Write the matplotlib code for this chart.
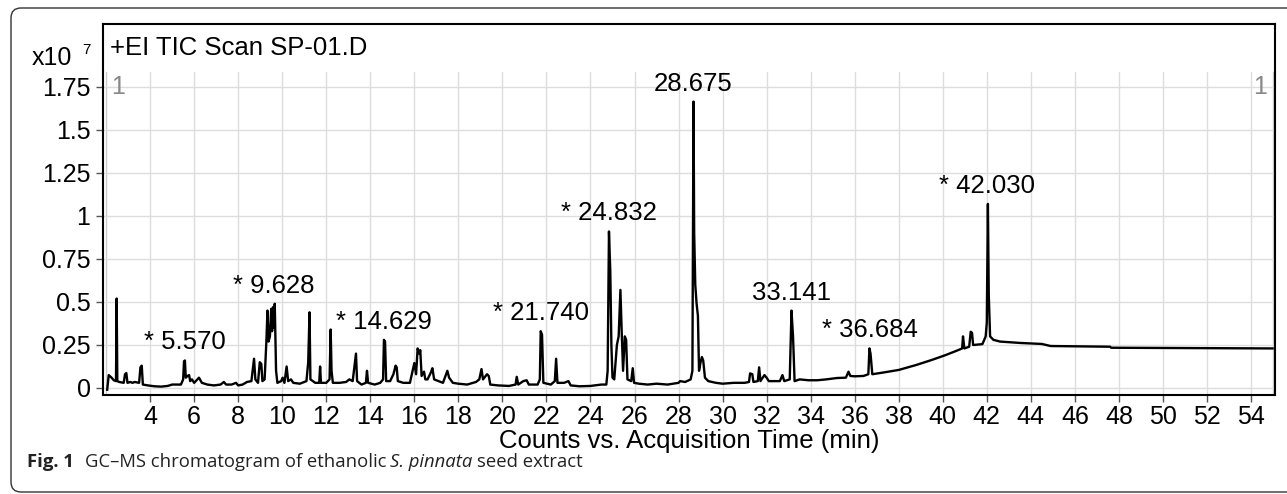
import matplotlib
matplotlib.use('Agg')
import matplotlib.pyplot as plt
from matplotlib.patches import FancyBboxPatch
from matplotlib.transforms import IdentityTransform

plt.rcParams['font.family'] = ['Liberation Sans', 'DejaVu Sans']

# TIC trace: retention time (min), counts (x10^7)
time = [2.05, 2.12, 2.25, 2.35, 2.45, 2.48, 2.51, 2.6, 2.8, 2.86, 2.92, 2.97, 3.1, 3.2, 3.3, 3.5,
        3.56, 3.62, 3.67, 3.9, 4.2, 4.5, 4.8, 5.0, 5.2, 5.4, 5.5, 5.54, 5.58, 5.62, 5.7, 5.77,
        5.82, 5.9, 6.0, 6.15, 6.22, 6.35, 6.6, 6.9, 7.2, 7.35, 7.45, 7.7, 7.9, 8.0, 8.2, 8.4,
        8.6, 8.72, 8.78, 8.9, 8.98, 9.05, 9.1, 9.2, 9.28, 9.33, 9.38, 9.44, 9.5, 9.54, 9.58, 9.62,
        9.66, 9.72, 9.78, 9.95, 10.02, 10.1, 10.2, 10.27, 10.4, 10.5, 10.8, 11.1, 11.18, 11.24, 11.28, 11.5,
        11.68, 11.72, 11.76, 12.0, 12.15, 12.2, 12.24, 12.3, 12.6, 12.9, 13.05, 13.2, 13.3, 13.35, 13.4, 13.6,
        13.8, 13.85, 13.9, 14.2, 14.45, 14.58, 14.62, 14.67, 14.72, 14.9, 15.05, 15.15, 15.2, 15.25, 15.5, 15.8,
        16.0, 16.08, 16.15, 16.22, 16.27, 16.33, 16.44, 16.5, 16.6, 16.75, 16.82, 16.9, 17.1, 17.3, 17.5, 17.58,
        17.75, 18.0, 18.4, 18.8, 18.95, 19.05, 19.12, 19.3, 19.38, 19.45, 19.8, 20.3, 20.6, 20.65, 20.72, 20.95,
        21.1, 21.2, 21.6, 21.7, 21.74, 21.8, 21.86, 22.2, 22.38, 22.44, 22.5, 22.8, 23.0, 23.1, 23.5, 24.0,
        24.5, 24.72, 24.78, 24.84, 24.9, 24.95, 25.0, 25.08, 25.2, 25.28, 25.36, 25.42, 25.48, 25.56, 25.62, 25.68,
        25.85, 25.92, 25.98, 26.2, 26.6, 27.0, 27.5, 28.0, 28.07, 28.3, 28.55, 28.63, 28.68, 28.71, 28.76, 28.82,
        28.88, 28.93, 29.0, 29.06, 29.12, 29.2, 29.35, 29.7, 30.0, 30.5, 31.0, 31.2, 31.25, 31.35, 31.4, 31.6,
        31.66, 31.72, 31.9, 32.0, 32.1, 32.6, 32.72, 32.8, 33.05, 33.13, 33.2, 33.27, 33.5, 33.9, 34.3, 34.7,
        35.2, 35.6, 35.72, 35.8, 36.0, 36.4, 36.62, 36.67, 36.72, 36.8, 37.3, 38.0, 38.8, 39.5, 40.1, 40.6,
        40.88, 40.92, 40.98, 41.2, 41.27, 41.33, 41.38, 41.8, 41.95, 42.0, 42.05, 42.09, 42.15, 42.3, 42.6, 43.5,
        44.5, 44.9, 47.6, 47.65, 52.0, 54.98]
counts = [-0.01, 0.075, 0.06, 0.045, 0.04, 0.52, 0.04, 0.035, 0.03, 0.08, 0.087, 0.03, 0.035, 0.03, 0.035, 0.03,
          0.12, 0.13, 0.02, 0.015, 0.01, 0.008, 0.012, 0.02, 0.02, 0.02, 0.05, 0.155, 0.16, 0.06, 0.07, 0.075,
          0.04, 0.05, 0.03, 0.05, 0.06, 0.03, 0.02, 0.015, 0.02, 0.035, 0.02, 0.02, 0.03, 0.015, 0.02, 0.035,
          0.04, 0.17, 0.05, 0.03, 0.15, 0.14, 0.04, 0.05, 0.27, 0.45, 0.27, 0.3, 0.46, 0.33, 0.47, 0.35,
          0.49, 0.1, 0.03, 0.04, 0.06, 0.03, 0.125, 0.04, 0.05, 0.03, 0.025, 0.04, 0.15, 0.44, 0.05, 0.03,
          0.03, 0.125, 0.03, 0.03, 0.05, 0.34, 0.1, 0.03, 0.03, 0.035, 0.05, 0.04, 0.15, 0.2, 0.04, 0.02,
          0.03, 0.1, 0.03, 0.02, 0.03, 0.05, 0.28, 0.27, 0.04, 0.04, 0.08, 0.13, 0.12, 0.04, 0.03, 0.03,
          0.145, 0.08, 0.23, 0.2, 0.22, 0.07, 0.095, 0.05, 0.05, 0.09, 0.115, 0.05, 0.04, 0.03, 0.1, 0.06,
          0.03, 0.025, 0.02, 0.035, 0.05, 0.11, 0.05, 0.08, 0.07, 0.02, 0.015, 0.012, 0.02, 0.065, 0.02, 0.04,
          0.045, 0.02, 0.02, 0.05, 0.33, 0.31, 0.03, 0.02, 0.04, 0.17, 0.03, 0.03, 0.04, 0.015, 0.01, 0.012,
          0.02, 0.02, 0.1, 0.91, 0.68, 0.25, 0.06, 0.05, 0.25, 0.3, 0.57, 0.32, 0.1, 0.3, 0.28, 0.05,
          0.04, 0.115, 0.03, 0.025, 0.02, 0.025, 0.02, 0.03, 0.04, 0.035, 0.05, 0.1, 1.665, 0.9, 0.6, 0.49,
          0.42, 0.1, 0.15, 0.18, 0.16, 0.06, 0.04, 0.03, 0.025, 0.03, 0.03, 0.035, 0.085, 0.08, 0.035, 0.04,
          0.12, 0.04, 0.075, 0.06, 0.04, 0.04, 0.075, 0.04, 0.05, 0.45, 0.3, 0.04, 0.05, 0.045, 0.045, 0.05,
          0.058, 0.06, 0.095, 0.07, 0.068, 0.07, 0.08, 0.23, 0.2, 0.08, 0.09, 0.105, 0.134, 0.163, 0.19, 0.215,
          0.23, 0.30, 0.23, 0.24, 0.327, 0.32, 0.25, 0.255, 0.3, 0.38, 1.07, 0.54, 0.3, 0.28, 0.27, 0.262,
          0.256, 0.244, 0.24, 0.234, 0.232, 0.23]

# labelled peaks
peak_rt = [5.570, 9.628, 14.629, 21.740, 24.832, 28.675, 33.141, 36.684, 42.030]
peak_top = [0.16, 0.49, 0.28, 0.33, 0.91, 1.665, 0.45, 0.23, 1.07]
peak_star = [True, True, True, True, True, False, False, True, True]

x_ticks = list(range(4, 55, 2))
y_ticks = [0, 0.25, 0.5, 0.75, 1, 1.25, 1.5, 1.75]
y_ticklabels = ['0', '0.25', '0.5', '0.75', '1', '1.25', '1.5', '1.75']

W, H = 1287, 494


def fx(p):
    return p / W


def fy(p):
    return 1 - p / H


fig = plt.figure(figsize=(W / 100, H / 100), dpi=100)

# rounded frame around the whole figure panel
frame = FancyBboxPatch((11, 2), 1300, H - 10, boxstyle='round,pad=0,rounding_size=10',
                       transform=IdentityTransform(), fill=False, edgecolor='#333333', lw=1.0)
fig.patches.append(frame)

# header strip with the scan name
hdr = fig.add_axes([fx(103), fy(72), fx(1275) - fx(103), fy(24) - fy(72)])
hdr.set_xticks([])
hdr.set_yticks([])
hdr.spines['bottom'].set_visible(False)
for s in ['top', 'left', 'right']:
    hdr.spines[s].set_linewidth(1.5)
hdr.text(0.006, 0.5, '+EI TIC Scan SP-01.D', transform=hdr.transAxes, fontsize=18.5,
         va='center', ha='left')

ax = fig.add_axes([fx(103), fy(395), fx(1275) - fx(103), fy(72) - fy(395)])
ax.plot(time, counts, color='black', lw=1.7, zorder=3)
ax.set_xlim(1.86, 55.09)
ax.set_ylim(-0.0407, 1.837)
ax.set_xticks(x_ticks)
ax.set_xticklabels([str(t) for t in x_ticks])
ax.set_yticks(y_ticks)
ax.set_yticklabels(y_ticklabels)
ax.grid(True, color='#dddddd', lw=1.0, zorder=0)
ax.axvline(2.0, color='#cccccc', lw=1.0, zorder=1)
ax.axvline(54.98, color='#cccccc', lw=1.0, zorder=1)
ax.spines['top'].set_visible(False)
for s in ['left', 'right', 'bottom']:
    ax.spines[s].set_linewidth(1.5)
ax.tick_params(axis='both', labelsize=18, direction='out', length=5, width=1,
               color='#555555', pad=2)
ax.tick_params(axis='y', pad=4)

for rt, top, star in zip(peak_rt, peak_top, peak_star):
    txt = ('* ' if star else '') + f'{rt:.3f}'
    ax.annotate(txt, xy=(rt, top), xytext=(0, 13), textcoords='offset points',
                ha='center', va='center', fontsize=18.5)

# grey trace number in the corners
ax.text(0.007, 1.75, '1', color='#888888', fontsize=18, va='center', ha='left',
        transform=ax.get_yaxis_transform())
ax.text(0.993, 1.75, '1', color='#888888', fontsize=18, va='center', ha='right',
        transform=ax.get_yaxis_transform())

fig.text(fx(72), fy(65), 'x10', fontsize=18, ha='right', va='baseline')
fig.text(fx(82), fy(54), '7', fontsize=11, ha='left', va='baseline')

fig.text(fx(689), fy(448), 'Counts vs. Acquisition Time (min)', fontsize=18.5,
         ha='center', va='baseline')

# caption, laid out piece by piece
renderer = fig.canvas.get_renderer()
cap_font = ['Open Sans', 'DejaVu Sans']
pieces = [('Fig. 1', 'bold', 'normal', 11),
          ('GC\u2013MS chromatogram of ethanolic', 'normal', 'normal', 4),
          ('S. pinnata', 'normal', 'italic', 4),
          ('seed extract', 'normal', 'normal', 0)]
xpos = 27
for text, weight, style, gap in pieces:
    t = fig.text(fx(xpos), fy(467), text, fontsize=13.3, fontweight=weight, fontstyle=style,
                 family=cap_font, ha='left', va='baseline', color='#222222')
    bb = t.get_window_extent(renderer)
    xpos += bb.width + gap

fig.savefig('out.png', dpi=100)
